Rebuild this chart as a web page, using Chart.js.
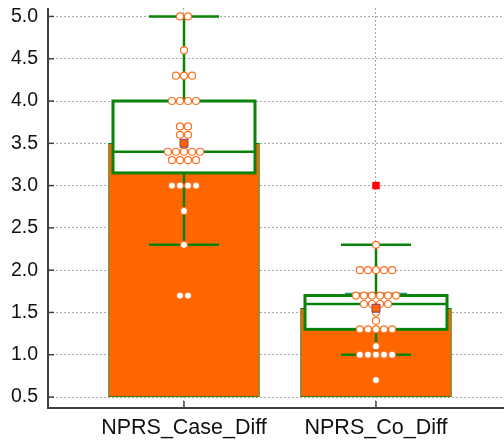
<!DOCTYPE html>
<html>
<head>
<meta charset="utf-8">
<script src="https://cdn.jsdelivr.net/npm/chart.js@4/dist/chart.umd.min.js"></script>
<style>
  html, body { margin: 0; padding: 0; background: #ffffff; }
</style>
</head>
<body>
<canvas id="plot" width="504" height="445"></canvas>
<script>
'use strict';

// Groups shown on the x axis
const categories = ['NPRS_Case_Diff', 'NPRS_Co_Diff'];

const caseValues = [
    5.0, 5.0, 4.6, 4.3, 4.3, 4.3, 4.0, 4.0, 4.0, 4.0,
    3.7, 3.7, 3.6, 3.6, 3.4, 3.4, 3.4, 3.4, 3.4,
    3.3, 3.3, 3.3, 3.3, 3.0, 3.0, 3.0, 3.0, 2.7, 2.3, 1.7, 1.7
];
const coValues = [
    2.3, 2.0, 2.0, 2.0, 2.0, 2.0, 1.7, 1.7, 1.7, 1.7, 1.7, 1.7,
    1.6, 1.6, 1.6, 1.6, 1.5, 1.4, 1.3, 1.3, 1.3, 1.3, 1.3,
    1.1, 1.0, 1.0, 1.0, 1.0, 1.0, 0.7
];

// Summary statistics per group
const means = [3.5, 1.55];
const ciLow = [3.25, 1.38];
const ciHigh = [3.75, 1.72];
const q1 = [3.15, 1.3];
const medians = [3.4, 1.6];
const q3 = [4.0, 1.7];
const whiskerLow = [2.3, 1.0];
const whiskerHigh = [5.0, 2.3];

// Outside values marked in red
const outlierGroup = [1];
const outlierValues = [3.0];

// Axis
const yTicks = [0.5, 1.0, 1.5, 2.0, 2.5, 3.0, 3.5, 4.0, 4.5, 5.0];
const BAR_BASE = 0.5;

const ORANGE = '#ff6600';
const DOT_EDGE = '#f77424';
const GREEN = '#0a820a';
const TEAL = '#2a8c8c';
const AXIS = '#404040';
const GRID = '#a8a8a8';

const SWARM_STEP = 0.042;

// place equal values side by side, centred on the group
function swarm(values, group) {
    const counts = {};
    values.forEach(v => { counts[v] = (counts[v] || 0) + 1; });
    const seen = {};
    return values.map(v => {
        const j = seen[v] || 0;
        seen[v] = j + 1;
        return { x: group + (j - (counts[v] - 1) / 2) * SWARM_STEP, y: v };
    });
}

function line(ctx, x1, y1, x2, y2) {
    ctx.beginPath();
    ctx.moveTo(x1, y1);
    ctx.lineTo(x2, y2);
    ctx.stroke();
}

// whiskers, mean interval and box drawn right after the bars
const boxPlugin = {
    id: 'boxes',
    afterDatasetDraw(chart, args) {
        if (args.index !== 0) return;
        const ctx = chart.ctx;
        const xs = chart.scales.x, ys = chart.scales.y;
        ctx.save();
        categories.forEach((c, i) => {
            const cx = xs.getPixelForValue(i);
            const py = v => ys.getPixelForValue(v);

            ctx.strokeStyle = TEAL;
            ctx.lineWidth = 2;
            line(ctx, cx, py(ciLow[i]), cx, py(ciHigh[i]));
            line(ctx, cx - 31, py(ciHigh[i]), cx + 31, py(ciHigh[i]));
            line(ctx, cx - 31, py(ciLow[i]), cx + 31, py(ciLow[i]));

            ctx.strokeStyle = GREEN;
            ctx.lineWidth = 2.5;
            line(ctx, cx, py(whiskerHigh[i]), cx, py(q3[i]));
            line(ctx, cx, py(whiskerLow[i]), cx, py(q1[i]));
            line(ctx, cx - 35, py(whiskerHigh[i]), cx + 35, py(whiskerHigh[i]));
            line(ctx, cx - 35, py(whiskerLow[i]), cx + 35, py(whiskerLow[i]));

            const top = py(q3[i]), bottom = py(q1[i]);
            ctx.fillStyle = '#ffffff';
            ctx.fillRect(cx - 71, top, 142, bottom - top);
            ctx.lineWidth = 3;
            ctx.strokeRect(cx - 71, top, 142, bottom - top);
            ctx.lineWidth = 2.5;
            line(ctx, cx - 71, py(medians[i]), cx + 71, py(medians[i]));
        });
        ctx.restore();
    },
    afterDraw(chart) {
        const ctx = chart.ctx;
        const a = chart.chartArea;
        const xs = chart.scales.x, ys = chart.scales.y;
        ctx.save();
        ctx.strokeStyle = AXIS;
        ctx.lineWidth = 2;
        line(ctx, a.left, a.top, a.left, a.bottom + 1);
        line(ctx, a.left - 1, a.bottom, a.right, a.bottom);
        ctx.lineWidth = 1.5;
        yTicks.forEach(v => {
            const y = ys.getPixelForValue(v);
            line(ctx, a.left, y, a.left + 6, y);
        });
        categories.forEach((c, i) => {
            const x = xs.getPixelForValue(i);
            line(ctx, x, a.bottom, x, a.bottom - 7);
        });
        ctx.restore();
    }
};

const datasets = [
    {
        type: 'bar',
        data: means.map((m, i) => ({ x: i, y: [BAR_BASE, m] })),
        backgroundColor: ORANGE,
        borderColor: GREEN,
        borderWidth: 1,
        borderSkipped: false,
        barThickness: 151,
        order: 3
    },
    {
        type: 'scatter',
        data: swarm(caseValues, 0).concat(swarm(coValues, 1)),
        pointStyle: 'circle',
        pointRadius: 3.5,
        pointBorderWidth: 1.2,
        pointBackgroundColor: '#ffffff',
        pointBorderColor: DOT_EDGE,
        order: 2
    },
    {
        type: 'scatter',
        data: means.map((m, i) => ({ x: i, y: m })),
        pointStyle: 'rect',
        pointRadius: 5.6,
        pointBorderWidth: 1,
        pointBackgroundColor: ORANGE,
        pointBorderColor: '#8a3a70',
        order: 1
    },
    {
        type: 'scatter',
        data: outlierValues.map((v, k) => ({ x: outlierGroup[k], y: v })),
        pointStyle: 'rect',
        pointRadius: 5.3,
        pointBorderWidth: 0,
        pointBackgroundColor: '#ff0000',
        order: 1
    }
];

const config = {
    type: 'scatter',
    data: { datasets: datasets },
    options: {
        responsive: false,
        animation: false,
        devicePixelRatio: 1,
        layout: { autoPadding: false, padding: { top: 8, right: 0, left: 0, bottom: 0 } },
        plugins: {
            legend: { display: false },
            tooltip: { enabled: false }
        },
        scales: {
            x: {
                type: 'linear',
                min: -0.7083,
                max: 1.6667,
                offset: false,
                afterBuildTicks: scale => {
                    scale.ticks = categories.map((c, i) => ({ value: i }));
                },
                afterFit: scale => {
                    scale.height = 37;
                    scale.paddingLeft = 0;
                    scale.paddingRight = 0;
                },
                ticks: {
                    callback: value => categories[value] ?? '',
                    color: '#111111',
                    font: { family: 'Liberation Sans, Arial, sans-serif', size: 21.5 },
                    padding: 7,
                    maxRotation: 0,
                    autoSkip: false
                },
                grid: { color: GRID, lineWidth: 1, drawTicks: false, offset: false },
                border: { display: false, dash: [2, 2] }
            },
            y: {
                type: 'linear',
                min: 0.37,
                max: 5.1,
                afterBuildTicks: scale => {
                    scale.ticks = yTicks.map(v => ({ value: v }));
                },
                afterFit: scale => {
                    scale.width = 48;
                    scale.paddingTop = 0;
                    scale.paddingBottom = 0;
                },
                ticks: {
                    callback: value => value.toFixed(1),
                    color: '#111111',
                    font: { family: 'Liberation Sans, Arial, sans-serif', size: 19.5 },
                    padding: 10
                },
                grid: { color: GRID, lineWidth: 1, drawTicks: false },
                border: { display: false, dash: [2, 2] }
            }
        }
    },
    plugins: [boxPlugin]
};

new Chart(document.getElementById('plot'), config);
</script>
</body>
</html>
